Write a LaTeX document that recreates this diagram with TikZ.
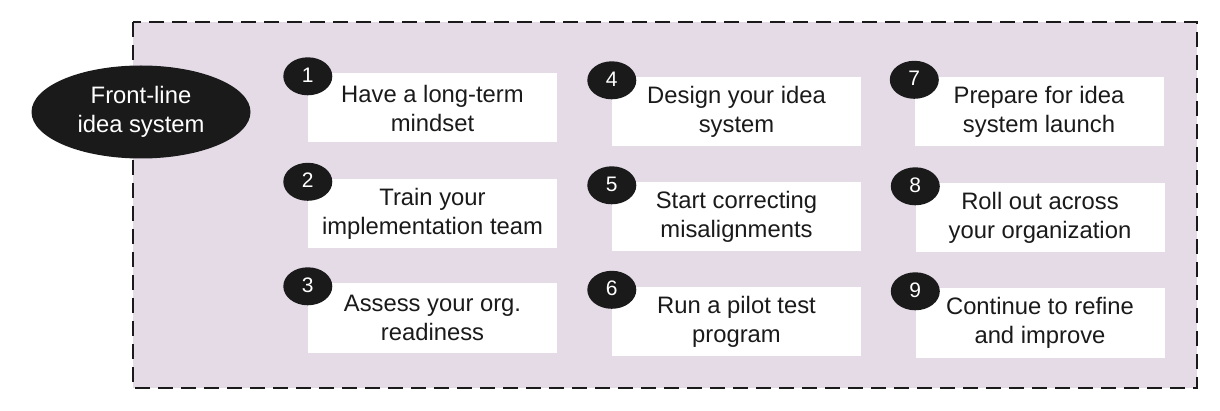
\documentclass[tikz,border=0pt]{standalone}
\usepackage{fontspec}
\setmainfont{Liberation Sans}
\usetikzlibrary{shapes.geometric}
\definecolor{lav}{HTML}{E4DBE7}
\definecolor{ink}{HTML}{1A1A1A}
\tikzset{
  stepbox/.style={rectangle, fill=white, minimum width=249pt, minimum height=69pt, inner sep=0pt, align=center, text=ink, font=\fontsize{23.8}{29}\selectfont},
  numdot/.style={ellipse, fill=ink, minimum width=49pt, minimum height=38pt, inner sep=0pt, text=white, font=\fontsize{21}{24}\selectfont},
  frame/.style={draw=ink, fill=lav, line width=2.5pt, dash pattern=on 15pt off 8pt},
  hub/.style={ellipse, fill=ink, minimum width=219pt, minimum height=93pt, inner sep=0pt, align=center, text=white, font=\fontsize{23.8}{29}\selectfont}
}
\begin{document}
\begin{tikzpicture}[x=1pt,y=-1pt]
\useasboundingbox (0,0) rectangle (1220,411);
\draw[frame] (133,22) rectangle (1197,388);
\node[hub] (hub) at (141,112) {Front-line\\idea system};
% column 1
\node[stepbox] (b1) at (432.5,108) {Have a long-term\\mindset};
\node[stepbox] (b2) at (432.5,213.5) {Train your\\implementation team};
\node[stepbox] (b3) at (432.5,318) {Assess your org.\\readiness};
% column 2
\node[stepbox] (b4) at (736.5,112) {Design your idea\\system};
\node[stepbox] (b5) at (736.5,217) {Start correcting\\misalignments};
\node[stepbox] (b6) at (736.5,321.5) {Run a pilot test\\program};
% column 3
\node[stepbox] (b7) at (1039,111.5) {Prepare for idea\\system launch};
\node[stepbox] (b8) at (1040,218) {Roll out across\\your organization};
\node[stepbox] (b9) at (1040,323) {Continue to refine\\and improve};
% number badges
\foreach \i in {1,...,9} {
  \node[numdot, yshift=-3pt] (n\i) at (b\i.north west) {\raisebox{3pt}{\i}};
}
\end{tikzpicture}
\end{document}
